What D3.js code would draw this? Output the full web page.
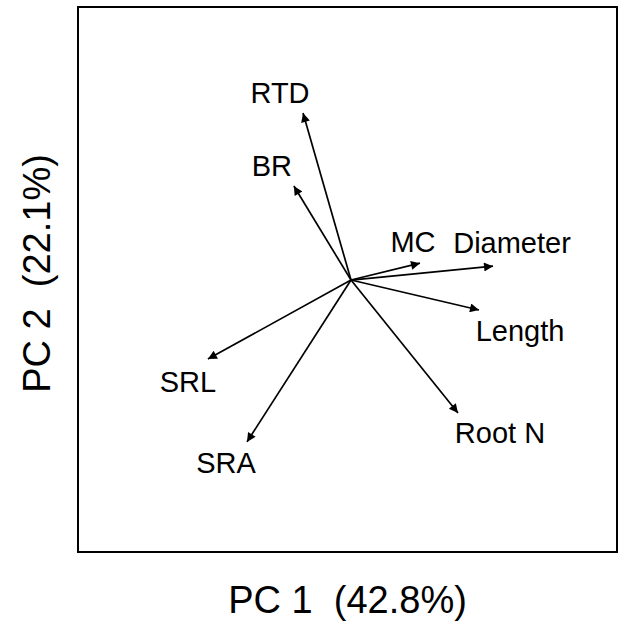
<!DOCTYPE html>
<html>
<head>
<meta charset="utf-8">
<script src="https://cdn.jsdelivr.net/npm/d3@7"></script>
<style>
  html, body { margin: 0; padding: 0; background: #fff; }
  svg { display: block; }
  text { font-family: "Liberation Sans", Arial, sans-serif; fill: #000; }
</style>
</head>
<body>
<svg id="chart" width="622" height="623"></svg>
<script>
// ---- data ----
const variables = ["RTD", "BR", "MC", "Diameter", "Length", "Root N", "SRL", "SRA"];
const pc1Loadings = [-0.178, -0.212, 0.256, 0.527, 0.475, 0.397, -0.531, -0.386];
const pc2Loadings = [0.613, 0.345, 0.062, 0.051, -0.110, -0.488, -0.290, -0.594];
const xAxisTitle = "PC 1  (42.8%)";
const yAxisTitle = "PC 2  (22.1%)";

// ---- layout ----
const box = { left: 78, right: 617, top: 7, bottom: 552 };
const labelOffsets = [[-23, -10], [-22, -10], [-7, -11], [19, -13], [41, 31], [42, 30], [-20, 33], [-21, 31]];

const svg = d3.select("#chart");

const x = d3.scaleLinear().domain([-1.013, 0.987]).range([box.left, box.right]);
const y = d3.scaleLinear().domain([-0.998, 1.002]).range([box.bottom, box.top]);

const defs = svg.append("defs");
defs.append("marker")
  .attr("id", "arrow")
  .attr("viewBox", "0 0 10 10")
  .attr("refX", 10).attr("refY", 5)
  .attr("markerWidth", 12).attr("markerHeight", 9)
  .attr("markerUnits", "userSpaceOnUse")
  .attr("orient", "auto")
  .append("path")
  .attr("d", "M0,0 L10,5 L0,10 Z")
  .attr("fill", "#000");

// frame
svg.append("rect")
  .attr("x", box.left).attr("y", box.top)
  .attr("width", box.right - box.left).attr("height", box.bottom - box.top)
  .attr("fill", "none").attr("stroke", "#000").attr("stroke-width", 2);

const data = variables.map((v, i) => ({ name: v, pc1: pc1Loadings[i], pc2: pc2Loadings[i], off: labelOffsets[i] }));

// arrows
svg.append("g").selectAll("line").data(data).join("line")
  .attr("x1", x(0)).attr("y1", y(0))
  .attr("x2", d => x(d.pc1)).attr("y2", d => y(d.pc2))
  .attr("stroke", "#000").attr("stroke-width", 1.7)
  .attr("marker-end", "url(#arrow)");

// labels
svg.append("g").selectAll("text").data(data).join("text")
  .attr("x", d => x(d.pc1) + d.off[0])
  .attr("y", d => y(d.pc2) + d.off[1])
  .attr("text-anchor", "middle")
  .attr("font-size", 29)
  .text(d => d.name);

// axis titles
svg.append("text")
  .attr("x", (box.left + box.right) / 2)
  .attr("y", 613)
  .attr("text-anchor", "middle")
  .attr("font-size", 38)
  .attr("xml:space", "preserve")
  .style("white-space", "pre")
  .text(xAxisTitle);

svg.append("text")
  .attr("transform", `translate(50, ${(box.top + box.bottom) / 2 - 6}) rotate(-90)`)
  .attr("text-anchor", "middle")
  .attr("font-size", 38)
  .attr("xml:space", "preserve")
  .style("white-space", "pre")
  .text(yAxisTitle);
</script>
</body>
</html>
